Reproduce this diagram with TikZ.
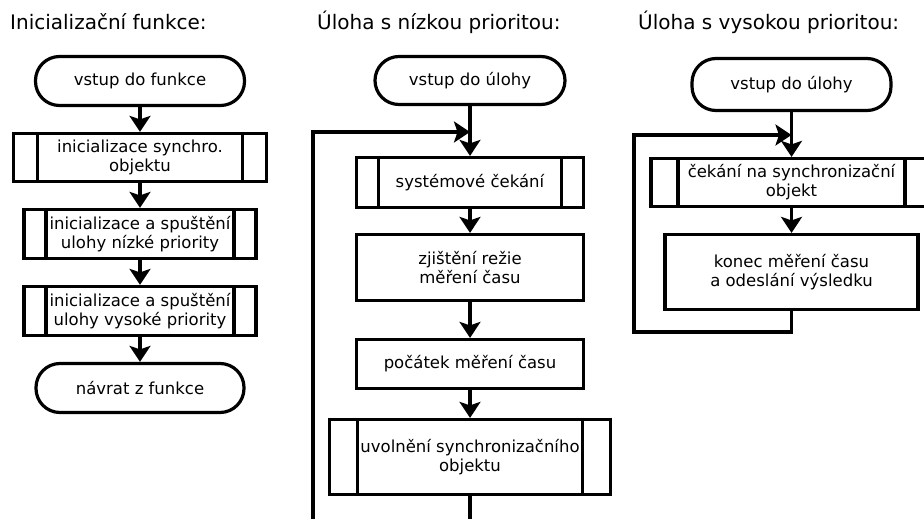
\documentclass[tikz,border=0pt]{standalone}
\usepackage{fontspec}
\setmainfont{DejaVu Sans}
\usetikzlibrary{arrows.meta,calc}
\begin{document}
\begin{tikzpicture}[x=1pt,y=-1pt,
  every node/.style={font=\fontsize{16.5}{19}\selectfont},
  title/.style={anchor=base west, inner sep=0pt, font=\fontsize{20}{24}\selectfont},
  box/.style={draw, line width=3.2pt, inner sep=0pt, align=center, fill=white},
  term/.style={box, rounded corners=24pt},
  subproc/.style={box, path picture={
      \draw[line width=3.2pt]
        ([xshift=#1]path picture bounding box.north west) -- ([xshift=#1]path picture bounding box.south west)
        ([xshift=-#1]path picture bounding box.north east) -- ([xshift=-#1]path picture bounding box.south east);}},
  flow/.style={line width=3.2pt, -{Stealth[length=16pt,width=21pt,inset=3.5pt]}}
]
\fill[white] (0,0) rectangle (924,519);
\clip (0,0) rectangle (924,519);

% headings
\node[title] (h1) at (10,30) {Inicializační funkce:};
\node[title] (h2) at (317,30) {Úloha s nízkou prioritou:};
\node[title] (h3) at (638,30) {Úloha s vysokou prioritou:};

% initialisation function
\node[term, minimum width=209, minimum height=49] (a0) at (140,81) {vstup do funkce};
\node[subproc=24, minimum width=253, minimum height=48] (a1) at (140,157.5) {inicializace synchro.\\objektu};
\node[subproc=22, minimum width=232, minimum height=49] (a2) at (140,234) {inicializace a spuštění\\ulohy nízké priority};
\node[subproc=22, minimum width=232, minimum height=49] (a3) at (140,311) {inicializace a spuštění\\ulohy vysoké priority};
\node[term, minimum width=208, minimum height=49] (a4) at (140,388) {návrat z funkce};
\draw[flow] (a0) -- (a1);
\draw[flow] (a1) -- (a2);
\draw[flow] (a2) -- (a3);
\draw[flow] (a3) -- (a4);

% low priority task
\node[term, minimum width=190, minimum height=48] (b0) at (470,80.5) {vstup do úlohy};
\coordinate (bj) at (470,132);
\node[subproc=22, minimum width=227, minimum height=50] (b1) at (470,182.5) {systémové čekání};
\node[box, minimum width=227, minimum height=66] (b2) at (470,267.5) {zjištění režie\\měření času};
\node[box, minimum width=227, minimum height=49] (b3) at (470,364) {počátek měření času};
\node[subproc=28, minimum width=281, minimum height=75] (b4) at (470,457) {uvolnění synchronizačního\\objektu};
\coordinate (bb) at (313,545);
\draw[flow] (b0) -- (b1);
\draw[flow] (b1) -- (b2);
\draw[flow] (b2) -- (b3);
\draw[flow] (b3) -- (b4);
\draw[flow] (b4.south) -- (b4.south |- bb) -- (bb) -- (bb |- bj) -- (bj);

% high priority task
\node[term, minimum width=199, minimum height=52] (c0) at (791.5,84.5) {vstup do úlohy};
\coordinate (cj) at (791.5,135);
\node[subproc=27, minimum width=281, minimum height=48] (c1) at (791.5,182.5) {čekání na synchronizační\\objekt};
\node[box, minimum width=253, minimum height=75] (c2) at (791.5,272) {konec měření času\\a odeslání výsledku};
\coordinate (cb) at (634,332);
\draw[flow] (c0) -- (c1);
\draw[flow] (c1) -- (c2);
\draw[flow] (c2.south) -- (c2.south |- cb) -- (cb) -- (cb |- cj) -- (cj);
\end{tikzpicture}
\end{document}
